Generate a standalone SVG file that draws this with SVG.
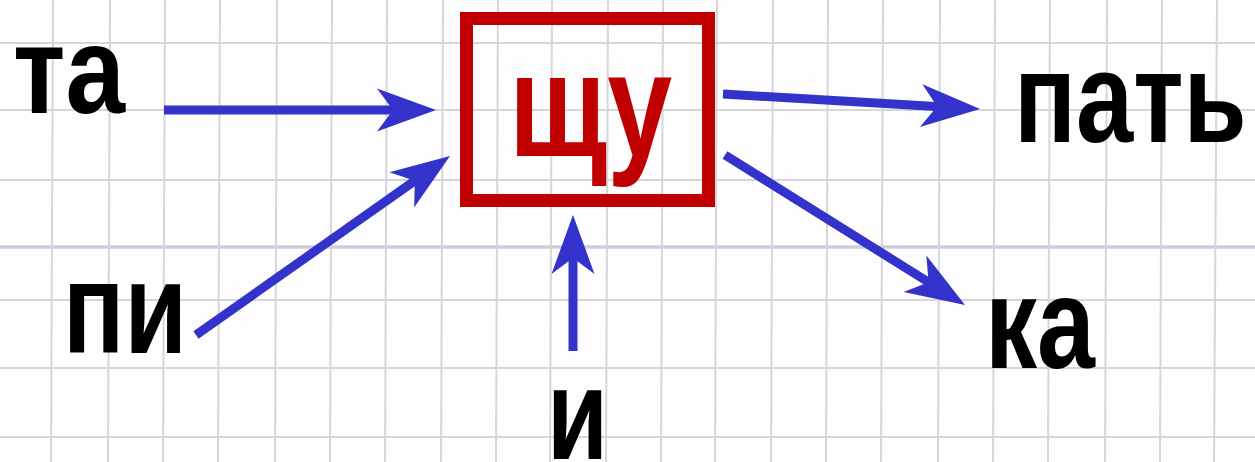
<svg xmlns="http://www.w3.org/2000/svg" width="1255" height="462" viewBox="0 0 1255 462">
<style>
.grid line{stroke:#d6d5da;stroke-width:2}
.grid line.major{stroke:#cfcbe0;stroke-width:3.5}
.lbl{font-family:"Liberation Sans Narrow","Liberation Sans",Arial,sans-serif;font-weight:bold;fill:#000;font-size:130px}
.core{fill:#c00000;font-size:148px}
.arr{stroke:#3333cc;stroke-width:9;fill:none;marker-end:url(#head)}
</style>
<defs>
<marker id="head" markerUnits="userSpaceOnUse" orient="auto" refX="0" refY="0" markerWidth="100" markerHeight="100" overflow="visible">
<path d="M40,0 L-19,-21.5 L-3,0 L-19,21.5 Z" fill="#3333cc"/>
</marker>
</defs>
<rect width="1255" height="462" fill="#fefefe"/>
<g class="grid">
<line x1="0" y1="43" x2="1255" y2="43"/>
<line x1="0" y1="110" x2="1255" y2="110"/>
<line x1="0" y1="180" x2="1255" y2="180"/>
<line class="major" x1="0" y1="247" x2="1255" y2="247"/>
<line x1="0" y1="300" x2="1255" y2="300"/>
<line x1="0" y1="368" x2="1255" y2="368"/>
<line x1="0" y1="437" x2="1255" y2="437"/>
<line x1="53" y1="0" x2="51" y2="462"/>
<line x1="110" y1="0" x2="108" y2="462"/>
<line x1="165" y1="0" x2="163" y2="462"/>
<line x1="220" y1="0" x2="218" y2="462"/>
<line x1="277" y1="0" x2="275" y2="462"/>
<line x1="332" y1="0" x2="330" y2="462"/>
<line x1="387" y1="0" x2="385" y2="462"/>
<line x1="443" y1="0" x2="441" y2="462"/>
<line x1="498" y1="0" x2="496" y2="462"/>
<line x1="552" y1="0" x2="550" y2="462"/>
<line x1="608" y1="0" x2="606" y2="462"/>
<line x1="663" y1="0" x2="661" y2="462"/>
<line x1="717" y1="0" x2="715" y2="462"/>
<line x1="773" y1="0" x2="771" y2="462"/>
<line x1="828" y1="0" x2="826" y2="462"/>
<line x1="883" y1="0" x2="881" y2="462"/>
<line x1="940" y1="0" x2="938" y2="462"/>
<line x1="995" y1="0" x2="993" y2="462"/>
<line x1="1050" y1="0" x2="1048" y2="462"/>
<line x1="1107" y1="0" x2="1105" y2="462"/>
<line x1="1162" y1="0" x2="1160" y2="462"/>
<line x1="1217" y1="0" x2="1214" y2="462"/>
</g>
<g id="connectors">
<line class="arr" x1="164" y1="110" x2="396" y2="110"/>
<line class="arr" x1="196" y1="335" x2="417.3" y2="179"/>
<line class="arr" x1="573" y1="351" x2="573" y2="255"/>
<line class="arr" x1="723" y1="94" x2="940.1" y2="106.7"/>
<line class="arr" x1="725" y1="155" x2="931.1" y2="283.8"/>
</g>
<g id="node-shchu">
<rect x="466.5" y="18.5" width="242" height="182" fill="none" stroke="#c00000" stroke-width="13"/>
<text class="lbl core" x="509" y="156" textLength="163" lengthAdjust="spacingAndGlyphs">щу</text>
</g>
<g id="node-ta"><text class="lbl" x="13" y="113" style="font-size:125px" textLength="112" lengthAdjust="spacingAndGlyphs">та</text></g>
<g id="node-pi"><text class="lbl" x="63" y="353" textLength="124" lengthAdjust="spacingAndGlyphs">пи</text></g>
<g id="node-i"><text class="lbl" x="547" y="459" textLength="61" lengthAdjust="spacingAndGlyphs">и</text></g>
<g id="node-pat"><text class="lbl" transform="translate(1014,142) scale(0.8,1)" x="0" y="0" style="font-size:128px" textLength="291" lengthAdjust="spacingAndGlyphs">пать</text></g>
<g id="node-ka"><text class="lbl" x="985" y="368" textLength="110" lengthAdjust="spacingAndGlyphs">ка</text></g>
</svg>
